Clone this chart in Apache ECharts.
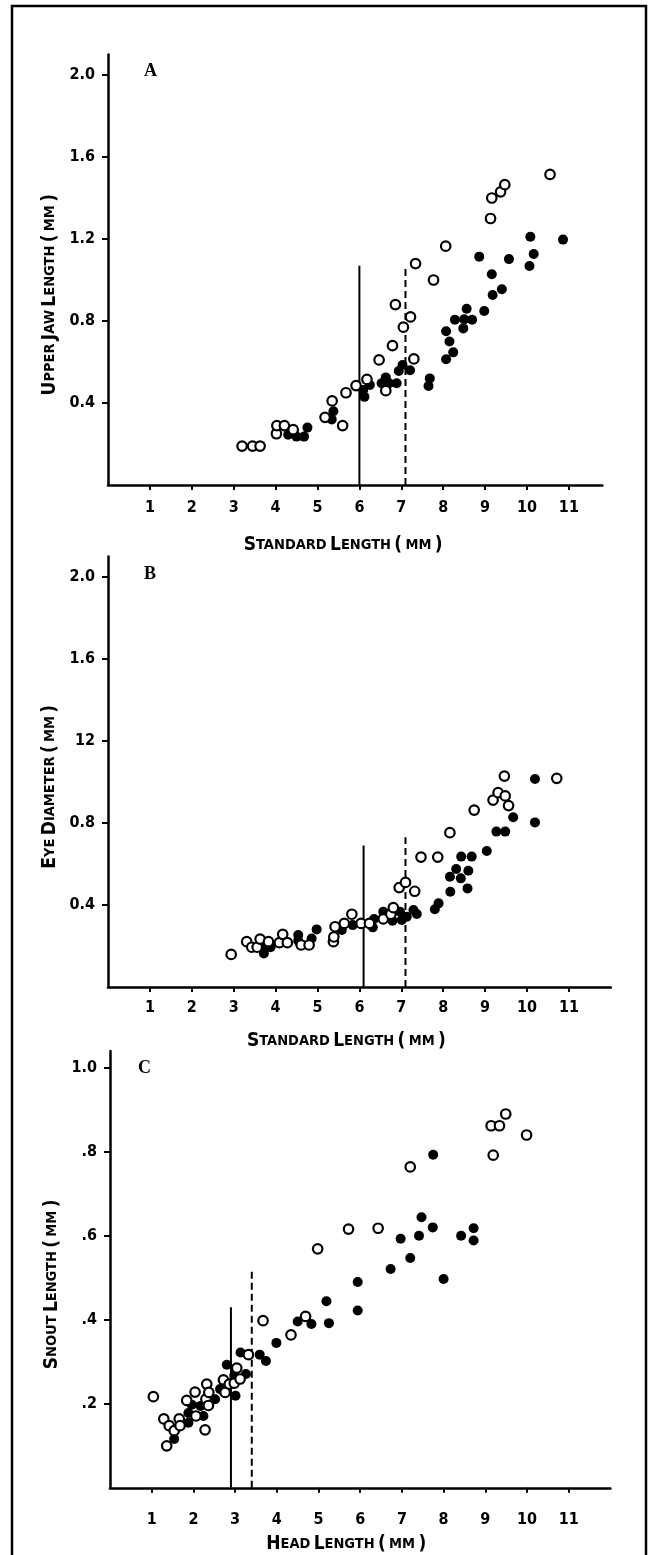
<!DOCTYPE html>
<html>
<head>
<meta charset="utf-8">
<script src="https://cdn.jsdelivr.net/npm/echarts@6/dist/echarts.min.js"></script>
<style>
html,body{margin:0;padding:0;background:#fff;}
#chart{width:650px;height:1555px;}
</style>
</head>
<body>
<div id="chart"></div>
<script>
// ---------- tick values & labels ----------
const xTicks = [1, 2, 3, 4, 5, 6, 7, 8, 9, 10, 11];
const xTickLabels = ['1', '2', '3', '4', '5', '6', '7', '8', '9', '10', '11'];
const yTicksAB = [0.4, 0.8, 1.2, 1.6, 2.0];
const yLabelsA = ['0.4', '0.8', '1.2', '1.6', '2.0'];
const yLabelsB = ['0.4', '0.8', '12', '1.6', '2.0'];
const yTicksC = [0.2, 0.4, 0.6, 0.8, 1.0];
const yLabelsC = ['.2', '.4', '.6', '.8', '1.0'];

// ---------- Panel A: upper jaw length vs standard length ----------
const openA = [[3.20,0.19],[3.45,0.19],[3.63,0.19],[4.02,0.25],[4.03,0.29],[4.21,0.29],[4.42,0.27],[5.18,0.33],[5.35,0.41],[5.60,0.29],[5.68,0.45],[5.92,0.485],[6.18,0.515],[6.47,0.61],[6.63,0.46],[6.79,0.68],[6.86,0.88],[7.05,0.77],[7.22,0.82],[7.30,0.615],[7.34,1.08],[7.77,1.0],[8.06,1.165],[9.13,1.30],[9.16,1.40],[9.37,1.43],[9.47,1.465],[10.55,1.515]];
const filledA = [[4.30,0.245],[4.50,0.236],[4.68,0.236],[4.76,0.28],[5.34,0.32],[5.38,0.36],[6.09,0.463],[6.12,0.43],[6.25,0.488],[6.53,0.496],[6.63,0.525],[6.71,0.496],[6.89,0.496],[6.94,0.556],[7.03,0.585],[7.21,0.56],[7.65,0.483],[7.68,0.52],[8.07,0.613],[8.07,0.75],[8.15,0.70],[8.24,0.647],[8.28,0.806],[8.48,0.764],[8.50,0.808],[8.56,0.86],[8.69,0.806],[8.86,1.114],[8.98,0.849],[9.16,1.028],[9.18,0.927],[9.40,0.955],[9.57,1.102],[10.06,1.068],[10.08,1.211],[10.16,1.127],[10.86,1.197]];
const solidA = [[6.0, 0], [6.0, 1.07]];
const dashedA = [[7.1, 0], [7.1, 1.07]];

// ---------- Panel B: eye diameter vs standard length ----------
const openB = [[2.94,0.159],[3.31,0.221],[3.43,0.194],[3.56,0.194],[3.63,0.234],[3.83,0.221],[4.09,0.216],[4.17,0.257],[4.28,0.216],[4.61,0.205],[4.80,0.205],[5.38,0.221],[5.39,0.244],[5.42,0.294],[5.64,0.31],[5.82,0.355],[6.04,0.31],[6.24,0.31],[6.57,0.332],[6.75,0.355],[6.81,0.387],[6.95,0.485],[7.10,0.51],[7.32,0.467],[7.47,0.634],[7.87,0.634],[8.16,0.753],[8.74,0.863],[9.19,0.912],[9.31,0.948],[9.46,1.029],[9.48,0.932],[9.56,0.885],[10.71,1.018]];
const filledB = [[3.72,0.164],[3.74,0.19],[3.88,0.194],[4.54,0.226],[4.54,0.254],[4.86,0.237],[4.98,0.281],[5.58,0.278],[5.84,0.302],[6.32,0.291],[6.35,0.332],[6.57,0.367],[6.79,0.323],[6.97,0.367],[7.01,0.327],[7.13,0.343],[7.29,0.376],[7.37,0.356],[7.80,0.379],[7.89,0.408],[8.16,0.538],[8.17,0.465],[8.31,0.576],[8.42,0.53],[8.43,0.636],[8.58,0.481],[8.60,0.567],[8.68,0.636],[9.04,0.663],[9.27,0.758],[9.48,0.758],[9.67,0.828],[10.19,0.803],[10.19,1.015]];
const solidB = [[6.1, 0], [6.1, 0.69]];
const dashedB = [[7.1, 0], [7.1, 0.73]];

// ---------- Panel C: snout length vs head length ----------
const openC = [[1.04,0.217],[1.29,0.164],[1.36,0.10],[1.42,0.148],[1.54,0.136],[1.66,0.164],[1.68,0.148],[1.84,0.208],[2.04,0.228],[2.06,0.171],[2.28,0.138],[2.30,0.211],[2.32,0.247],[2.36,0.196],[2.37,0.227],[2.72,0.257],[2.76,0.227],[2.86,0.247],[2.98,0.249],[3.04,0.285],[3.12,0.259],[3.32,0.317],[3.67,0.398],[4.34,0.364],[4.69,0.408],[4.98,0.569],[5.72,0.616],[6.43,0.618],[7.20,0.764],[9.14,0.862],[9.19,0.792],[9.34,0.862],[9.49,0.89],[9.99,0.84]];
const filledC = [[1.54,0.116],[1.88,0.155],[1.88,0.178],[1.96,0.198],[2.17,0.195],[2.24,0.171],[2.52,0.211],[2.64,0.235],[2.80,0.293],[2.98,0.267],[3.01,0.219],[3.13,0.322],[3.26,0.271],[3.59,0.317],[3.74,0.302],[3.99,0.345],[4.50,0.396],[4.83,0.39],[5.19,0.444],[5.25,0.392],[5.94,0.422],[5.94,0.49],[6.73,0.521],[6.97,0.593],[7.20,0.547],[7.41,0.60],[7.47,0.644],[7.74,0.62],[7.75,0.793],[8.00,0.497],[8.42,0.60],[8.72,0.589],[8.72,0.618]];
const solidC = [[2.9, 0], [2.9, 0.43]];
const dashedC = [[3.4, 0], [3.4, 0.52]];

// ---------- titles (small caps via rich text) ----------
const xTitleSL = '{b|S}{s|TANDARD} {b|L}{s|ENGTH} {b|(} {s|MM} {b|)}';
const xTitleHL = '{b|H}{s|EAD} {b|L}{s|ENGTH} {b|(} {s|MM} {b|)}';
const yTitleA = '{b|U}{s|PPER} {b|J}{s|AW} {b|L}{s|ENGTH} {b|(} {s|MM} {b|)}';
const yTitleB = '{b|E}{s|YE} {b|D}{s|IAMETER} {b|(} {s|MM} {b|)}';
const yTitleC = '{b|S}{s|NOUT} {b|L}{s|ENGTH} {b|(} {s|MM} {b|)}';

const FONT = "'Liberation Sans Narrow', 'DejaVu Sans Condensed', sans-serif";
const rich = {
  b: { fontFamily: FONT, fontSize: 19, fontWeight: 'bold', color: '#000' },
  s: { fontFamily: FONT, fontSize: 14.5, fontWeight: 'bold', color: '#000' }
};

function xAxisDef(gridIndex, max, title, labelMargin, nameGap, namePadRight) {
  return {
    type: 'value', gridIndex: gridIndex, min: 0, max: max,
    axisLine: { show: true, onZero: false, lineStyle: { color: '#000', width: 2.5 } },
    axisTick: { show: true, inside: false, length: 5, customValues: xTicks, lineStyle: { color: '#000', width: 2 } },
    axisLabel: {
      show: true, customValues: xTicks, margin: labelMargin,
      formatter: function (v) { const i = xTicks.indexOf(v); return i >= 0 ? xTickLabels[i] : ''; },
      fontFamily: FONT, fontSize: 16, fontWeight: 'bold', color: '#000'
    },
    splitLine: { show: false },
    name: title, nameLocation: 'middle', nameGap: nameGap, nameMoveOverlap: false,
    nameTextStyle: { rich: rich, padding: [0, namePadRight, 0, 0] }
  };
}
function yAxisDef(gridIndex, max, ticks, labels, title, nameGap, namePadRight) {
  return {
    type: 'value', gridIndex: gridIndex, min: 0, max: max,
    axisLine: { show: true, onZero: false, lineStyle: { color: '#000', width: 2.5 } },
    axisTick: { show: true, inside: false, length: 6, customValues: ticks, lineStyle: { color: '#000', width: 2 } },
    axisLabel: {
      show: true, customValues: ticks, margin: 13,
      formatter: function (v) {
        for (let i = 0; i < ticks.length; i++) { if (Math.abs(ticks[i] - v) < 1e-6) return labels[i]; }
        return '';
      },
      fontFamily: FONT, fontSize: 16, fontWeight: 'bold', color: '#000'
    },
    splitLine: { show: false },
    name: title, nameLocation: 'middle', nameGap: nameGap, nameRotate: 90, nameMoveOverlap: false,
    nameTextStyle: { rich: rich, padding: [0, namePadRight, 0, 0] }
  };
}
function pts(data, idx, filled) {
  return {
    type: 'scatter', xAxisIndex: idx, yAxisIndex: idx, data: data,
    symbol: 'circle', symbolSize: filled ? 10 : 9.5, z: filled ? 3 : 4,
    itemStyle: filled ? { color: '#000', opacity: 1 } : { color: '#fff', borderColor: '#000', borderWidth: 2.2, opacity: 1 },
    silent: true
  };
}
function vline(data, idx, dashed) {
  return {
    type: 'line', xAxisIndex: idx, yAxisIndex: idx, data: data,
    symbol: 'none', z: 2, silent: true,
    lineStyle: { color: '#000', width: 2, type: dashed ? [7, 4] : 'solid' }
  };
}

const chart = echarts.init(document.getElementById('chart'), null, { renderer: 'canvas', width: 650, height: 1555 });
chart.setOption({
  backgroundColor: '#fff',
  animation: false,
  grid: [
    { left: 108, top: 54.5, width: 494.4, height: 430.5, containLabel: false, outerBoundsMode: 'none' },
    { left: 108, top: 556.5, width: 502.8, height: 430.5, containLabel: false, outerBoundsMode: 'none' },
    { left: 110, top: 1051, width: 500.4, height: 436.8, containLabel: false, outerBoundsMode: 'none' }
  ],
  xAxis: [
    xAxisDef(0, 11.8, xTitleSL, 15, 51, 24),
    xAxisDef(1, 12, xTitleSL, 13, 45, 26),
    xAxisDef(2, 12, xTitleHL, 24, 47, 28)
  ],
  yAxis: [
    yAxisDef(0, 2.1, yTicksAB, yLabelsA, yTitleA, 48, 50),
    yAxisDef(1, 2.1, yTicksAB, yLabelsB, yTitleB, 48, 30),
    yAxisDef(2, 1.04, yTicksC, yLabelsC, yTitleC, 48, 30)
  ],
  graphic: [
    { type: 'rect', shape: { x: 12, y: 6, width: 634, height: 1600 }, style: { fill: 'none', stroke: '#000', lineWidth: 2.5 }, silent: true },
    { type: 'text', left: 144, top: 62, style: { text: 'A', font: "bold 18px 'Liberation Serif', serif", fill: '#000' } },
    { type: 'text', left: 144, top: 565, style: { text: 'B', font: "bold 18px 'Liberation Serif', serif", fill: '#000' } },
    { type: 'text', left: 138, top: 1059, style: { text: 'C', font: "bold 18px 'Liberation Serif', serif", fill: '#000' } }
  ],
  series: [
    vline(solidA, 0, false), vline(dashedA, 0, true),
    pts(filledA, 0, true), pts(openA, 0, false),
    vline(solidB, 1, false), vline(dashedB, 1, true),
    pts(filledB, 1, true), pts(openB, 1, false),
    vline(solidC, 2, false), vline(dashedC, 2, true),
    pts(filledC, 2, true), pts(openC, 2, false)
  ]
});
</script>
</body>
</html>
